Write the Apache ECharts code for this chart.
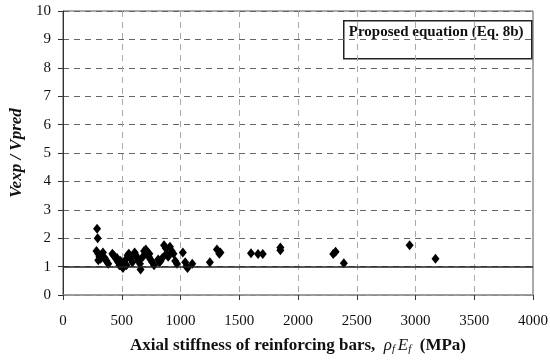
<!DOCTYPE html>
<html><head><meta charset="utf-8">
<script src="https://cdn.jsdelivr.net/npm/echarts@6/dist/echarts.min.js"></script>
<style>html,body{margin:0;padding:0;background:#fff}#c{width:550px;height:361px}</style>
</head><body><div id="c"></div>
<script>
const stiffness = [290,295,285,300,310,320,300,340,355,370,385,360,
  420,440,455,470,480,430,460,490,
  505,510,520,535,550,560,575,590,540,
  610,620,630,645,655,660,680,690,700,
  705,720,730,745,760,775,735,
  810,820,830,845,860,875,880,895,
  910,925,940,955,970,
  1020,1040,1050,1060,1100,
  1250,1310,1340,1330,1600,1660,1700,1850,1850,2300,2320,2390,2950,3170];
const ratio = [2.33,2.0,1.55,1.45,1.35,1.28,1.22,1.5,1.3,1.2,1.1,1.25,
  1.45,1.35,1.25,1.15,1.05,1.4,1.3,1.2,
  1.0,0.95,1.1,1.25,1.4,1.45,1.3,1.15,1.05,
  1.5,1.4,1.3,1.2,1.1,0.9,1.35,1.55,1.45,
  1.6,1.5,1.35,1.25,1.15,1.05,1.45,
  1.25,1.15,1.2,1.3,1.75,1.65,1.45,1.35,
  1.7,1.55,1.45,1.2,1.1,
  1.5,1.15,1.0,0.95,1.1,
  1.15,1.6,1.5,1.45,1.47,1.44,1.44,1.67,1.58,1.44,1.52,1.12,1.75,1.28];
const xTicks = [0,500,1000,1500,2000,2500,3000,3500,4000];
const yTicks = [0,1,2,3,4,5,6,7,8,9,10];
const refValue = 1;
const legendText = 'Proposed equation (Eq. 8b)';

const serif = '"Liberation Serif", "DejaVu Serif", serif';
const chart = echarts.init(document.getElementById('c'));
chart.setOption({
  animation: false,
  backgroundColor: '#fff',
  grid: {left: 63, right: 17, top: 11, bottom: 66, outerBoundsMode: 'none', containLabel: false,
         show: true, borderColor: '#555', borderWidth: 1},
  xAxis: {
    type: 'value', min: xTicks[0], max: xTicks[xTicks.length-1], interval: 500,
    axisLine: {show: true, onZero: false, lineStyle: {color: '#999', width: 1.5}},
    axisTick: {show: true, inside: false, length: 5, lineStyle: {color: '#333'}},
    axisLabel: {color: '#111', fontFamily: serif, fontSize: 15, margin: 19, formatter: v => String(v)},
    splitLine: {show: true, lineStyle: {color: '#aaa', type: [6, 5], width: 1}},
    name: '{b|Axial stiffness of reinforcing bars,  }{g|ρ}{s|f }{g|E}{s|f}{b|  (MPa)}',
    nameLocation: 'middle', nameGap: 42,
    nameTextStyle: {rich: {
      b: {fontFamily: serif, fontWeight: 'bold', fontSize: 17, color: '#111'},
      g: {fontFamily: serif, fontStyle: 'italic', fontSize: 17, color: '#111'},
      s: {fontFamily: serif, fontStyle: 'italic', fontSize: 11, color: '#111', verticalAlign: 'bottom', padding: [7,0,0,0]}
    }}
  },
  yAxis: {
    type: 'value', min: yTicks[0], max: yTicks[yTicks.length-1], interval: 1,
    axisLine: {show: true, lineStyle: {color: '#333', width: 1}},
    axisTick: {show: true, inside: false, length: 5, lineStyle: {color: '#333'}},
    axisLabel: {color: '#111', fontFamily: serif, fontSize: 15, margin: 12},
    splitLine: {show: true, lineStyle: {color: '#666', type: [6, 5], width: 1}},
    name: 'Vexp / Vpred', nameLocation: 'middle', nameGap: 36,
    nameTextStyle: {fontFamily: serif, fontWeight: 'bold', fontStyle: 'italic', fontSize: 17, color: '#111'}
  },
  graphic: [{
    type: 'group', left: 343, top: 20,
    children: [
      {type: 'rect', shape: {x: 0, y: 0, width: 188, height: 38}, style: {fill: '#fff', stroke: '#222', lineWidth: 1.5}},
      {type: 'text', x: 5, y: 4, style: {text: legendText, font: 'bold 15px "Liberation Serif", serif', fill: '#111'}}
    ],
    z: 100
  }],
  series: [{
    type: 'scatter',
    data: stiffness.map((v, i) => [v, ratio[i]]),
    symbol: 'diamond', symbolSize: [8, 10],
    itemStyle: {color: '#000', opacity: 1},
    markLine: {
      silent: true, symbol: 'none', label: {show: false},
      lineStyle: {color: '#222', type: 'solid', width: 1.5},
      data: [[{coord: [xTicks[0], refValue]}, {coord: [xTicks[xTicks.length-1], refValue]}]]
    }
  }]
});
</script></body></html>
